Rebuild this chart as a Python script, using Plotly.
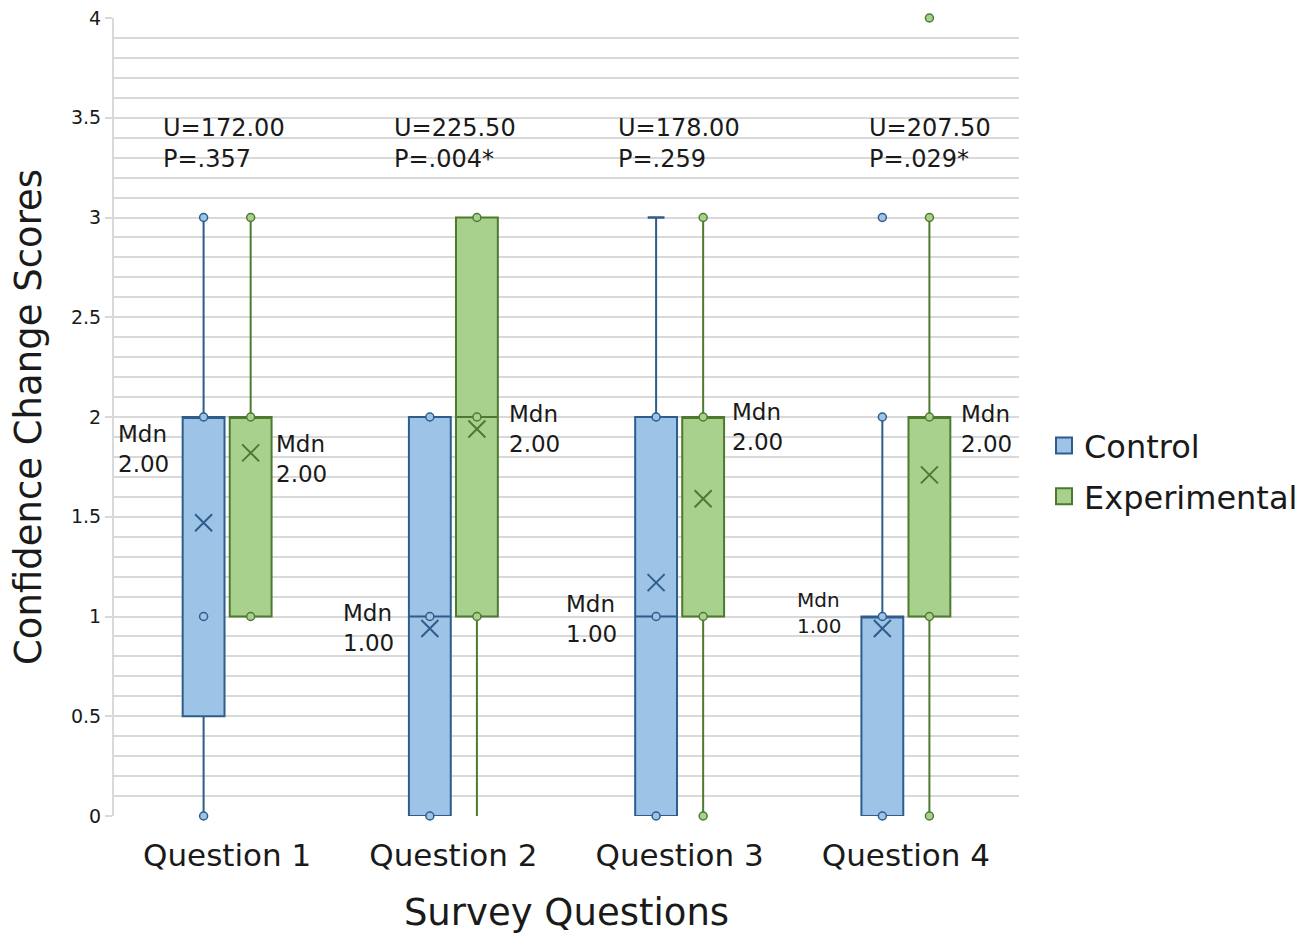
import plotly.graph_objects as go

# Survey questions and group names
questions = ["Question 1", "Question 2", "Question 3", "Question 4"]
groups = ["Control", "Experimental"]

# Five-number summaries per question (Control)
ctrl_min = [0, 0, 0, 0]
ctrl_q1 = [0.5, 0, 0, 0]
ctrl_median = [2, 1, 1, 1]
ctrl_q3 = [2, 2, 2, 1]
ctrl_max = [3, 2, 3, 2]
ctrl_mean = [1.47, 0.94, 1.17, 0.94]

# Five-number summaries per question (Experimental)
exp_min = [1, 0, 0, 0]
exp_q1 = [1, 1, 1, 1]
exp_median = [2, 2, 2, 2]
exp_q3 = [2, 3, 2, 2]
exp_max = [3, 3, 3, 3]
exp_mean = [1.82, 1.94, 1.59, 1.71]

# Distinct score values shown as points (Control / Experimental)
ctrl_points = [[0, 1, 2, 3], [0, 1, 2], [0, 1, 2], [0, 1, 2, 3]]
exp_points = [[1, 2, 3], [1, 2, 3], [0, 1, 2, 3], [0, 1, 2, 3, 4]]

# Mann-Whitney results per question
u_stats = ["172.00", "225.50", "178.00", "207.50"]
p_values = [".357", ".004*", ".259", ".029*"]

# Median labels
ctrl_mdn_text = ["2.00", "1.00", "1.00", "1.00"]
exp_mdn_text = ["2.00", "2.00", "2.00", "2.00"]

FONT = "DejaVu Sans"
TXT = "#1a1a1a"
C_FILL, C_LINE = "#9DC3E6", "#2E5D8C"
E_FILL, E_LINE = "#A9D18E", "#4E7A2F"
GRID = "#D9D9D9"
OFFSET = 0.104
BOX_W = 0.185

xs = list(range(len(questions)))

fig = go.Figure()

series = [
    ("Control", -OFFSET, ctrl_min, ctrl_q1, ctrl_median, ctrl_q3, ctrl_max, ctrl_mean, ctrl_points, C_FILL, C_LINE),
    ("Experimental", OFFSET, exp_min, exp_q1, exp_median, exp_q3, exp_max, exp_mean, exp_points, E_FILL, E_LINE),
]

for name, off, mn, q1, md, q3, mx, mean, pts, fill, line in series:
    pos = [x + off for x in xs]
    fig.add_trace(go.Box(
        name=name, legendgroup=name, showlegend=False,
        x=pos, q1=q1, median=md, q3=q3,
        lowerfence=mn, upperfence=mx,
        width=BOX_W, whiskerwidth=0,
        fillcolor=fill, line=dict(color=line, width=2),
        boxpoints=False, hoverinfo="skip",
    ))
    px, py = [], []
    for x, vals in zip(pos, pts):
        for v in vals:
            px.append(x)
            py.append(v)
    fig.add_trace(go.Scatter(
        x=px, y=py, mode="markers", legendgroup=name, showlegend=False, cliponaxis=False,
        marker=dict(symbol="circle", size=8, color=fill, line=dict(color=line, width=1.5)),
    ))
    fig.add_trace(go.Scatter(
        x=pos, y=mean, mode="markers", legendgroup=name, showlegend=False,
        marker=dict(symbol="x-thin", size=17, color=line, line=dict(color=line, width=2)),
    ))
    # square legend swatch for the group
    fig.add_trace(go.Scatter(
        x=[None], y=[None], mode="markers", name=name, legendgroup=name,
        marker=dict(symbol="square", size=17, color=fill, line=dict(color=line, width=2)),
    ))

# Whisker end mark on Question 3 control
fig.add_trace(go.Scatter(
    x=[2 - OFFSET], y=[ctrl_max[2]], mode="markers", showlegend=False,
    marker=dict(symbol="line-ew", size=12, line=dict(color=C_LINE, width=2.5)),
))

# U / P annotations
up_x_off = [-0.293, -0.273, -0.283, -0.173]
for i, (u, p) in enumerate(zip(u_stats, p_values)):
    fig.add_annotation(
        x=i + up_x_off[i], y=3.37, xanchor="left", yanchor="middle", align="left",
        text=f"U={u}<br>P={p}", showarrow=False,
        font=dict(family=FONT, size=24, color=TXT),
    )

# Median annotations
ctrl_mdn_pos = [(-0.49, 1.84), (0.503, 0.94), (1.488, 0.99), (2.512, 1.02)]
exp_mdn_pos = [(0.207, 1.79), (1.236, 1.94), (2.221, 1.95), (3.236, 1.94)]
for i in xs:
    cx, cy = ctrl_mdn_pos[i]
    fig.add_annotation(
        x=cx, y=cy, xanchor="left", yanchor="middle", align="left",
        text=f"Mdn<br>{ctrl_mdn_text[i]}", showarrow=False,
        font=dict(family=FONT, size=20 if i == 3 else 23, color=TXT),
    )
    ex, ey = exp_mdn_pos[i]
    fig.add_annotation(
        x=ex, y=ey, xanchor="left", yanchor="middle", align="left",
        text=f"Mdn<br>{exp_mdn_text[i]}", showarrow=False,
        font=dict(family=FONT, size=23, color=TXT),
    )

fig.update_layout(
    width=1314, height=935,
    margin=dict(l=114, r=294, t=18, b=119),
    plot_bgcolor="white", paper_bgcolor="white",
    boxmode="overlay",
    font=dict(family=FONT, color=TXT),
    legend=dict(
        x=1.0265, y=0.432, xanchor="left", yanchor="middle",
        font=dict(family=FONT, size=32, color=TXT),
        itemsizing="trace", tracegroupgap=6,
    ),
    xaxis=dict(
        range=[-0.5, 3.5], tickvals=xs, ticktext=questions,
        showgrid=False, zeroline=False, showline=False, ticks="",
        tickfont=dict(size=31), ticklabelstandoff=18, automargin=False,
        title=dict(text="Survey Questions", font=dict(size=37), standoff=27),
    ),
    yaxis=dict(
        range=[0, 4], dtick=0.5, tick0=0, automargin=False,
        showgrid=True, gridcolor=GRID, gridwidth=2,
        zeroline=False, showline=True, linecolor=GRID, linewidth=2,
        ticks="outside", ticklen=7, tickcolor=GRID, tickwidth=2,
        tickfont=dict(size=19),
        minor=dict(dtick=0.1, showgrid=True, gridcolor=GRID, gridwidth=2, ticks=""),
        title=dict(text="Confidence Change Scores", font=dict(size=37), standoff=18),
    ),
)

fig.write_html("out.html")
